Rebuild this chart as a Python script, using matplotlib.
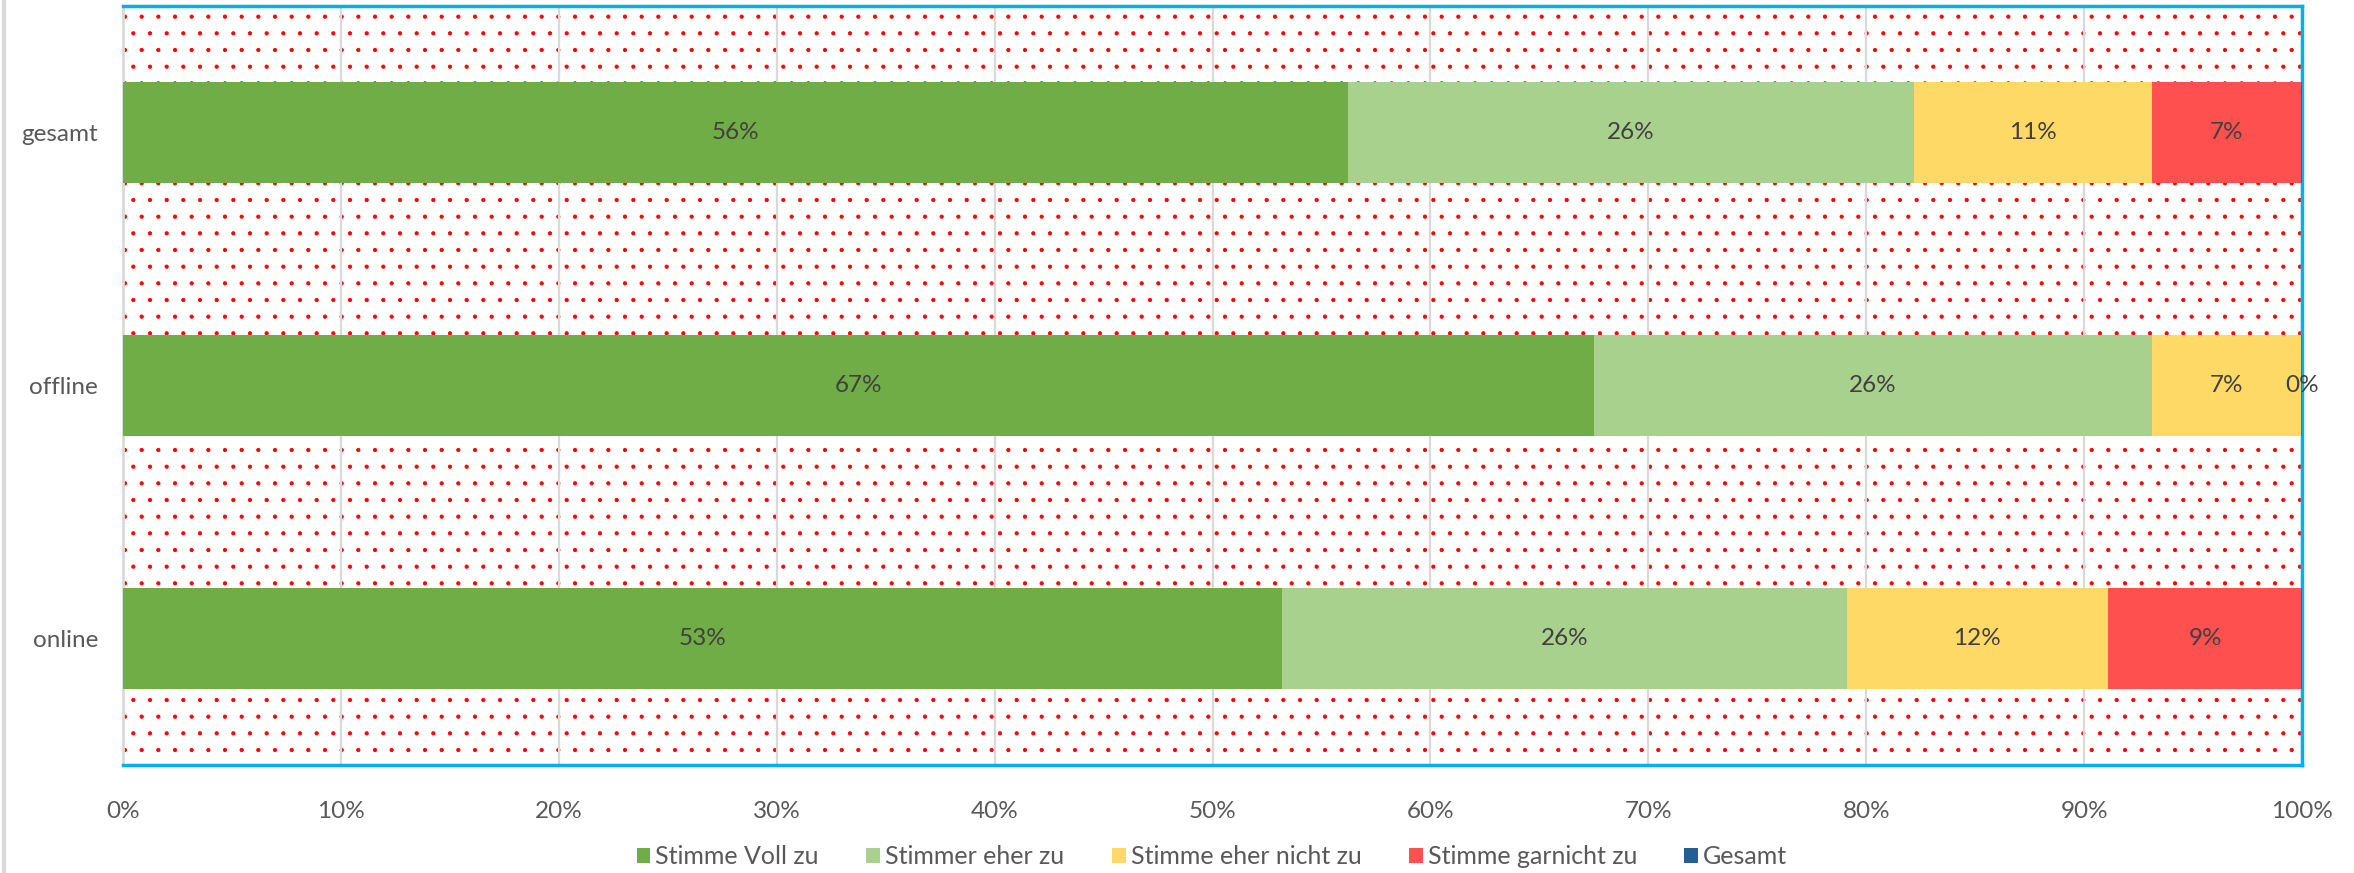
import matplotlib
matplotlib.use("Agg")
import matplotlib.pyplot as plt
import numpy as np
from matplotlib.patches import Rectangle, Patch
from matplotlib.lines import Line2D
from matplotlib.ticker import PercentFormatter

# data (shares, 0..1)
groups = ['online', 'offline', 'gesamt']
series = ['Stimme Voll zu', 'Stimmer eher zu', 'Stimme eher nicht zu', 'Stimme garnicht zu', 'Gesamt']
voll_zu = [0.532, 0.675, 0.562]
eher_zu = [0.259, 0.256, 0.260]
eher_nicht_zu = [0.120, 0.069, 0.109]
garnicht_zu = [0.089, 0.0, 0.069]
gesamt = [0.0, 0.0, 0.0]
labels = [
    ['53%', '67%', '56%'],
    ['26%', '26%', '26%'],
    ['12%', '7%', '11%'],
    ['9%', '0%', '7%'],
]
xticks = np.arange(0, 1.01, 0.1)

colors = ['#70AD47', '#A9D18E', '#FFD966', '#FF5050', '#255E91']
grey_txt = '#595959'

plt.rcParams['font.family'] = ['Lato', 'DejaVu Sans']
plt.rcParams['hatch.linewidth'] = 0.6

fig = plt.figure(figsize=(23.54, 8.73), dpi=100)
ax = fig.add_axes([123 / 2354, 1 - 765 / 873, (2302 - 123) / 2354, (765 - 6) / 873])

# dotted pattern background of the plot area
ax.add_patch(Rectangle((0, 0), 1, 1, transform=ax.transAxes, facecolor='white',
                       edgecolor='#FF0000', hatch='.', linewidth=0, zorder=0))

y = np.arange(len(groups))
left = np.zeros(len(groups))
for vals, col, labs in zip([voll_zu, eher_zu, eher_nicht_zu, garnicht_zu], colors[:4], labels):
    ax.barh(y, vals, left=left, height=0.4, color=col, edgecolor='none', zorder=3)
    for i in range(len(groups)):
        ax.text(left[i] + vals[i] / 2, y[i], labs[i], ha='center', va='center',
                fontsize=17.5, color='#404040', zorder=5)
    left = left + np.array(vals)
# "Gesamt" series: zero width, only a thin edge at the end of each bar
ax.barh(y, gesamt, left=left, height=0.4, color=colors[4], edgecolor=colors[4],
        linewidth=1.2, zorder=4)

ax.set_xlim(0, 1)
ax.set_ylim(-0.5, 2.5)
ax.set_xticks(xticks)
ax.xaxis.set_major_formatter(PercentFormatter(1.0, decimals=0))
ax.set_yticks(y)
ax.set_yticklabels(groups)
ax.tick_params(axis='x', length=0, pad=26, labelsize=17.5, labelcolor=grey_txt)
ax.tick_params(axis='y', length=0, pad=18, labelsize=17.5, labelcolor=grey_txt)
ax.grid(axis='x', color='#D9D9D9', linewidth=1.6, zorder=1)
ax.set_axisbelow(True)

for side in ['top', 'right', 'bottom']:
    ax.spines[side].set_color('#00B0F0')
    ax.spines[side].set_linewidth(2.5)
ax.spines['left'].set_color('#D9D9D9')
ax.spines['left'].set_linewidth(2)

handles = [Patch(facecolor=c, edgecolor='none') for c in colors]
fig.legend(handles, series, loc='center', bbox_to_anchor=(1212 / 2354, 1 - 857 / 873),
           ncol=5, frameon=False, fontsize=18, labelcolor=grey_txt,
           handlelength=0.55, handleheight=0.55, handletextpad=0.2, columnspacing=1.9)

# thin grey frame line at the left edge of the figure
fig.add_artist(Line2D([4 / 2354, 4 / 2354], [0, 1], color='#D9D9D9', linewidth=3))

fig.savefig('out.png', dpi=100)
